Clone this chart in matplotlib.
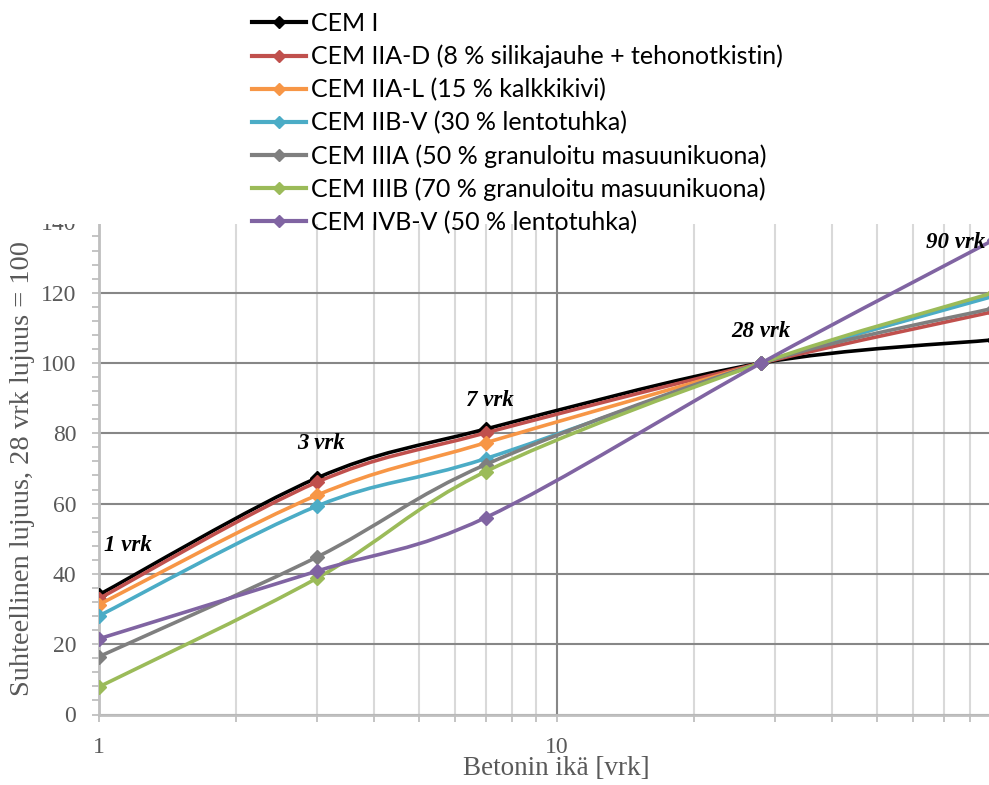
import numpy as np
import matplotlib
matplotlib.use('Agg')
import matplotlib.pyplot as plt
from matplotlib.path import Path
from matplotlib.patches import PathPatch, Rectangle
from matplotlib.lines import Line2D
from matplotlib.ticker import FixedLocator, NullFormatter, MultipleLocator

# Age of concrete in days and relative strength (28 d strength = 100)
days = [1, 3, 7, 28, 90]
cem_i = [34.0, 67.3, 81.2, 100, 106.6]
cem_iia_d = [32.9, 66.1, 80.1, 100, 114.6]
cem_iia_l = [31.2, 62.4, 77.3, 100, 119.8]
cem_iib_v = [28.0, 59.3, 72.8, 100, 119.0]
cem_iiia = [16.4, 44.8, 71.1, 100, 115.6]
cem_iiib = [7.8, 38.8, 69.1, 100, 120.0]
cem_ivb_v = [21.5, 40.8, 56.0, 100, 135.0]

labels = [
    'CEM I',
    'CEM IIA-D (8 % silikajauhe + tehonotkistin)',
    'CEM IIA-L (15 % kalkkikivi)',
    'CEM IIB-V (30 % lentotuhka)',
    'CEM IIIA (50 % granuloitu masuunikuona)',
    'CEM IIIB (70 % granuloitu masuunikuona)',
    'CEM IVB-V (50 % lentotuhka)',
]
series = [cem_i, cem_iia_d, cem_iia_l, cem_iib_v, cem_iiia, cem_iiib, cem_ivb_v]
colors = ['#000000', '#C0504D', '#F79646', '#4BACC6', '#7F7F7F', '#9BBB59', '#8064A2']

age_labels = ['1 vrk', '3 vrk', '7 vrk', '28 vrk', '90 vrk']
age_label_pos = [(1.03, 48.2), (2.71, 77.2), (6.36, 89.2), (24.1, 108.9), (64.0, 134.4)]


def smooth_path(x, y):
    """Smoothed line through the points (Catmull-Rom style Bezier in log-x space)."""
    u = np.log10(np.asarray(x, float))
    v = np.asarray(y, float)
    n = len(u)
    verts = [(u[0], v[0])]
    codes = [Path.MOVETO]
    for i in range(n - 1):
        i0 = max(i - 1, 0)
        i3 = min(i + 2, n - 1)
        c1 = (u[i] + (u[i + 1] - u[i0]) / 6, v[i] + (v[i + 1] - v[i0]) / 6)
        c2 = (u[i + 1] - (u[i3] - u[i]) / 6, v[i + 1] - (v[i3] - v[i]) / 6)
        verts += [c1, c2, (u[i + 1], v[i + 1])]
        codes += [Path.CURVE4] * 3
    verts = np.array(verts)
    verts[:, 0] = 10 ** verts[:, 0]
    return Path(verts, codes)


W, H = 989, 785
fig = plt.figure(figsize=(W / 100, H / 100), dpi=100)
ax = fig.add_axes([98.5 / W, 70.5 / H, 916 / W, 492.1 / H])

ax.set_xscale('log')
ax.set_xlim(1, 100)
ax.set_ylim(0, 140)

# lines and markers
for i, (vals, c) in enumerate(zip(series, colors)):
    ax.add_patch(PathPatch(smooth_path(days, vals), facecolor='none', edgecolor=c,
                           lw=2.6, capstyle='round', joinstyle='round', zorder=3 + 2 * i))
    ax.plot(days, vals, linestyle='none', marker='D', ms=7.5, color=c,
            zorder=4 + 2 * i)

for txt, (x, y) in zip(age_labels, age_label_pos):
    ax.text(x, y, txt, ha='left', va='center', fontsize=16.5, fontweight='bold',
            fontstyle='italic', family='Liberation Serif', color='black', zorder=30)

# axes styling
grey_txt = '#595959'
ax.yaxis.set_major_locator(MultipleLocator(20))
ax.yaxis.set_minor_locator(MultipleLocator(4))
ax.xaxis.set_major_locator(FixedLocator([1, 10, 100]))
ax.xaxis.set_minor_locator(FixedLocator(list(range(2, 10)) + list(range(20, 100, 10))))
ax.xaxis.set_minor_formatter(NullFormatter())
ax.set_xticklabels(['1', '10', ''])

ax.set_axisbelow(True)
ax.yaxis.grid(True, which='major', color='#878787', lw=1.5)
ax.xaxis.grid(True, which='minor', color='#d9d9d9', lw=1.5)
ax.xaxis.grid(True, which='major', color='#878787', lw=1.5)

for s in ['top', 'right']:
    ax.spines[s].set_visible(False)
for s in ['left', 'bottom']:
    ax.spines[s].set_color('#bfbfbf')
    ax.spines[s].set_linewidth(2)

ax.tick_params(axis='both', which='both', color='#bfbfbf', width=1.3, length=5,
               direction='out', labelcolor=grey_txt)
ax.tick_params(axis='y', which='major', pad=11)
ax.tick_params(axis='x', which='major', pad=11)
for lab in ax.get_xticklabels() + ax.get_yticklabels():
    lab.set_family('Liberation Serif')
    lab.set_fontsize(17)

ax.set_xlabel('Betonin ikä [vrk]', family='Liberation Serif', fontsize=19.5,
              color=grey_txt, labelpad=-1)
ax.set_ylabel('Suhteellinen lujuus, 28 vrk lujuus = 100', family='Liberation Serif',
              fontsize=20.5, color=grey_txt, labelpad=4)

# white band behind the legend
fig.add_artist(Rectangle((0, 1 - 224 / H), 1, 224 / H, transform=fig.transFigure,
                         facecolor='white', edgecolor='none', zorder=3))

handles = [Line2D([], [], color=c, lw=3, marker='D', ms=6) for c in colors]
fig.legend(handles, labels, loc='upper left', bbox_to_anchor=(252 / W, 1 - 12 / H),
           frameon=False, prop={'family': 'Lato', 'size': 18},
           handlelength=2.15, handletextpad=0.2, labelspacing=0.39,
           borderpad=0, borderaxespad=0)

fig.savefig('out.png', dpi=100)
